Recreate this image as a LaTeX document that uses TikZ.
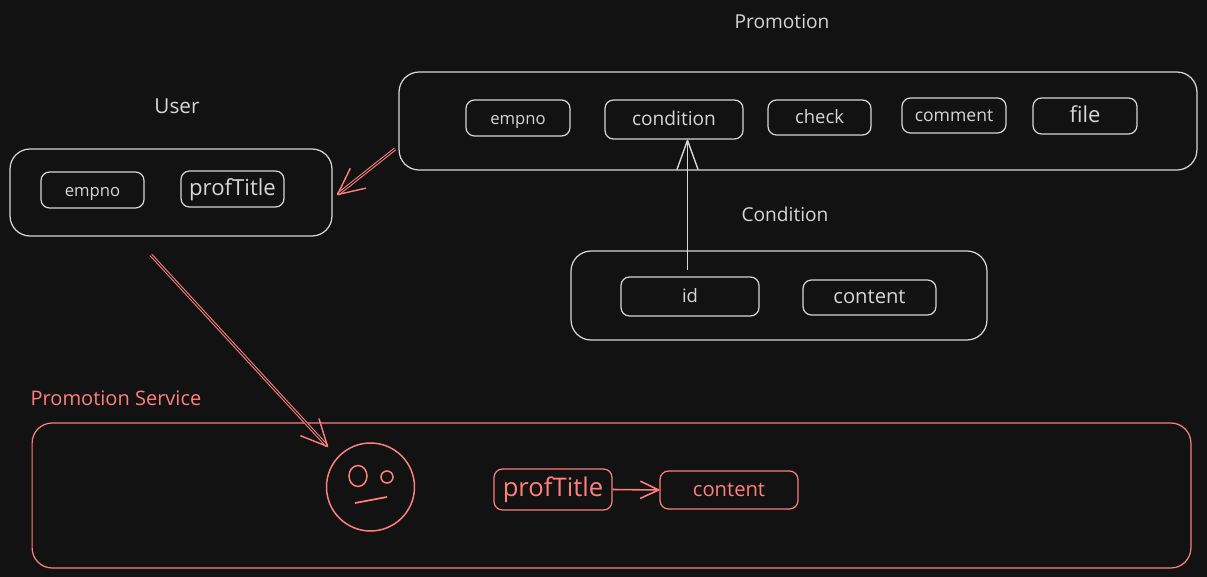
\documentclass[tikz,border=0pt]{standalone}
\usepackage{fontspec}
\setmainfont{Open Sans}
\usetikzlibrary{arrows.meta,positioning,shapes.geometric}
\definecolor{canvas}{HTML}{121212}
\definecolor{chalk}{HTML}{D6D6D6}
\definecolor{coral}{HTML}{FF7F7F}

\begin{document}
\begin{tikzpicture}[
    x=0.02cm, y=-0.02cm,
    sized/.style={font=\fontsize{#1}{14}\selectfont},
    outer/.style={draw=chalk, rounded corners=0.40cm, line width=0.7pt},
    field/.style={draw=chalk, text=chalk, rounded corners=0.17cm, line width=0.7pt,
        inner sep=0pt, text height=9pt, text depth=1.6pt, sized=10.5},
    title/.style={text=chalk, inner sep=0pt, sized=10.9},
    redouter/.style={outer, draw=coral},
    redfield/.style={field, draw=coral, text=coral},
    redtitle/.style={title, text=coral},
    arrow/.style={-{Straight Barb[length=0.52cm, width=0.50cm, round, line width=0.8pt]},
        line width=0.6pt, double=canvas, double distance=0.6pt},
    uparrow/.style={-{Straight Barb[length=0.58cm, width=0.42cm, round, line width=0.8pt]},
        line width=1.1pt},
    thinarrow/.style={-{Straight Barb[length=0.36cm, width=0.34cm, round]}, line width=0.9pt}
]
    \path[use as bounding box, fill=canvas] (0, 0) rectangle (1207, 577);

    \node[title] (promotion_title) at (782, 22) {Promotion};
    \node[outer, minimum width=15.96cm, minimum height=1.96cm]
        (promotion_outer) at (798, 121) {};
    \node[field, sized=9.5, minimum width=2.08cm, minimum height=0.72cm]
        (promotion_empno) at (518, 118) {empno};
    \node[field, sized=10.9, minimum width=2.76cm, minimum height=0.78cm]
        (promotion_condition) at (674, 119.5) {condition};
    \node[field, minimum width=2.06cm, minimum height=0.70cm]
        (promotion_check) at (819.5, 117.5) {check};
    \node[field, sized=10, minimum width=2.08cm, minimum height=0.70cm]
        (promotion_comment) at (954, 115.5) {comment};
    \node[field, sized=12.5, minimum width=2.08cm, minimum height=0.72cm]
        (promotion_file) at (1085, 116) {file};

    \node[title, sized=11.8] (user_title) at (177, 106) {User};
    \node[outer, minimum width=6.44cm, minimum height=1.74cm]
        (user_outer) at (171, 192.5) {};
    \node[field, sized=9.5, minimum width=2.06cm, minimum height=0.72cm]
        (user_empno) at (92.5, 190) {empno};
    \node[field, sized=12.6, minimum width=2.06cm, minimum height=0.72cm]
        (user_proftitle) at (232.5, 189) {profTitle};

    \node[title] (condition_title) at (785, 214) {Condition};
    \node[outer, minimum width=8.32cm, minimum height=1.78cm]
        (condition_outer) at (779, 295.5) {};
    \node[field, minimum width=2.76cm, minimum height=0.78cm]
        (condition_id) at (690, 296.5) {id};
    \node[field, sized=11.5, minimum width=2.66cm, minimum height=0.70cm]
        (condition_content) at (869.5, 297.5) {content};

    \node[redtitle, sized=11.4] (service_title) at (116, 398) {Promotion Service};
    \node[redouter, minimum width=23.18cm, minimum height=2.90cm]
        (service_outer) at (611.5, 495.5) {};
    \node[redfield, sized=14.6, minimum width=2.36cm, minimum height=0.82cm]
        (service_proftitle) at (553, 489.5) {profTitle};
    \node[redfield, sized=11.5, minimum width=2.76cm, minimum height=0.76cm]
        (service_content) at (729, 490) {content};

    \node[draw=coral, circle, line width=0.85pt, minimum size=1.76cm, inner sep=0pt]
        (face) at (370.5, 487) {};
    \node[draw=coral, ellipse, line width=0.85pt, minimum width=0.36cm, minimum height=0.42cm,
        inner sep=0pt] (face_eye_left) at (358, 476) {};
    \node[draw=coral, circle, line width=0.85pt, minimum size=0.24cm, inner sep=0pt]
        (face_eye_right) at (387, 477) {};
    \coordinate (face_mouth_left) at (355, 503);
    \coordinate (face_mouth_right) at (387, 497);
    \draw[coral, line width=1pt] (face_mouth_left) -- (face_mouth_right);

    \coordinate (promotion_out) at (395, 149);
    \coordinate (user_in) at (337, 195);
    \draw[arrow, coral] (promotion_out) -- (user_in);

    \coordinate (user_out) at (151, 255);
    \coordinate (face_in) at (328, 447);
    \draw[arrow, coral] (user_out) -- (face_in);

    \coordinate (id_out) at (687.5, 270);
    \draw[uparrow, chalk] (id_out) -- (id_out |- promotion_condition.south);

    \draw[thinarrow, coral] (service_proftitle.east) -- (service_content.west);
\end{tikzpicture}
\end{document}
